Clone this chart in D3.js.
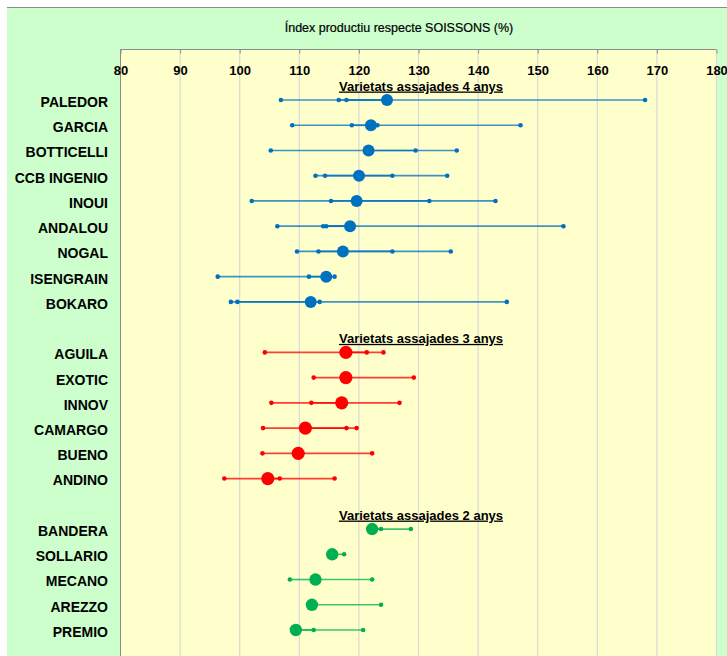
<!DOCTYPE html>
<html>
<head>
<meta charset="utf-8">
<script src="https://cdn.jsdelivr.net/npm/d3@7"></script>
<style>
  body { margin: 0; background: #fff; }
  text { font-family: "Liberation Sans", Arial, sans-serif; }
</style>
</head>
<body>
<div id="container"></div>
<script>
var svgWidth = 727;
var svgHeight = 656;

// varietats assajades 4 anys
var names4 = ["PALEDOR", "GARCIA", "BOTTICELLI", "CCB INGENIO", "INOUI", "ANDALOU", "NOGAL", "ISENGRAIN", "BOKARO"];
var means4 = [124.8, 122.1, 121.7, 120.1, 119.7, 118.6, 117.4, 114.6, 112.0];
var years4 = [
    [107.0, 116.7, 118.0, 168.1],
    [108.9, 118.9, 123.2, 147.2],
    [129.6, 105.3, 136.5],
    [112.8, 114.4, 125.7, 134.9],
    [102.1, 115.4, 131.9, 143.0],
    [106.4, 114.1, 114.6, 154.4],
    [109.7, 113.3, 125.7, 135.5],
    [96.4, 111.7, 116.0],
    [98.6, 99.7, 113.5, 144.9]
];

// varietats assajades 3 anys
var names3 = ["AGUILA", "EXOTIC", "INNOV", "CAMARGO", "BUENO", "ANDINO"];
var means3 = [117.9, 117.9, 117.2, 111.1, 109.9, 104.8];
var years3 = [
    [104.3, 121.4, 124.2],
    [112.5, 129.3],
    [105.4, 112.1, 126.9],
    [104.0, 118.0, 119.7],
    [103.9, 122.3],
    [97.5, 106.8, 116.0]
];

// varietats assajades 2 anys
var names2 = ["BANDERA", "SOLLARIO", "MECANO", "AREZZO", "PREMIO"];
var means2 = [122.3, 115.6, 112.8, 112.2, 109.5];
var years2 = [
    [123.8, 128.8],
    [117.6],
    [108.5, 122.3],
    [123.8],
    [112.5, 120.8]
];

var xTicks = [80, 90, 100, 110, 120, 130, 140, 150, 160, 170, 180];

var groups = [
    {title: "Varietats assajades 4 anys", names: names4, means: means4, years: years4, color: "#0070C0", r: 6},
    {title: "Varietats assajades 3 anys", names: names3, means: means3, years: years3, color: "#FF0000", r: 6.6},
    {title: "Varietats assajades 2 anys", names: names2, means: means2, years: years2, color: "#00B050", r: 6.2}
];

var plotLeft = 120, plotRight = 716, plotTop = 49, plotBottom = 656;

var svg = d3.select('#container').append('svg')
    .attr("width", svgWidth)
    .attr("height", svgHeight);

// outer chart area
svg.append('rect')
    .attr('x', 7).attr('y', 7)
    .attr('width', svgWidth - 7).attr('height', svgHeight - 7)
    .style('fill', '#CCFFCC');
svg.append('line')
    .attr('x1', 7).attr('x2', svgWidth)
    .attr('y1', 7.5).attr('y2', 7.5)
    .style('stroke', '#8c8c8c').style('stroke-width', 1);

svg.append('rect')
    .attr('x', plotLeft).attr('y', plotTop)
    .attr('width', plotRight - plotLeft).attr('height', plotBottom - plotTop)
    .style('fill', '#FFFFCC');

var x = d3.scaleLinear().domain([80, 180]).range([plotLeft, plotRight]);

// row slots, with one empty slot between groups
var slots = [];
groups.forEach(function (g, gi) {
    if (gi > 0) slots.push("gap" + gi);
    g.names.forEach(function (n) { slots.push(n); });
});
var y = d3.scalePoint().domain(slots).range([100, 630]);

// gridlines
svg.append('g')
    .selectAll('line')
    .data(xTicks)
    .enter().append('line')
    .attr('x1', function (d) { return x(d) + 0.5; })
    .attr('x2', function (d) { return x(d) + 0.5; })
    .attr('y1', plotTop)
    .attr('y2', plotBottom)
    .style('stroke', '#D9D9D9')
    .style('stroke-width', 1.2);

// plot border (left and top)
svg.append('path')
    .attr('d', 'M' + (plotLeft + 0.5) + ',' + plotBottom + 'V' + (plotTop + 0.5) + 'H' + plotRight)
    .style('fill', 'none')
    .style('stroke', '#8c8c8c')
    .style('stroke-width', 1);

var axis = svg.append('g')
    .attr('transform', 'translate(0.5,' + (plotTop + 0.5) + ')')
    .call(d3.axisBottom(x).tickValues(xTicks).tickSize(4).tickPadding(12).tickFormat(d3.format('d')));
axis.select('.domain').remove();
axis.selectAll('line').style('stroke', '#8c8c8c');
axis.selectAll('text')
    .style('font-size', '13px')
    .style('font-weight', 'bold')
    .style('fill', '#000');

svg.append('text')
    .attr('x', 399)
    .attr('y', 32)
    .attr('text-anchor', 'middle')
    .style('font-size', '12.5px')
    .style('fill', '#000')
    .style('stroke', '#000')
    .style('stroke-width', 0.2)
    .text('Índex productiu respecte SOISSONS (%)');

groups.forEach(function (g) {
    var firstY = y(g.names[0]);

    svg.append('text')
        .attr('x', 421)
        .attr('y', firstY - 9.5)
        .attr('text-anchor', 'middle')
        .style('font-size', '13px')
        .style('font-weight', 'bold')
        .style('text-decoration', 'underline')
        .style('fill', '#000')
        .text(g.title);

    var rows = svg.append('g').selectAll('g')
        .data(g.names.map(function (n, i) {
            return {name: n, mean: g.means[i], years: g.years[i]};
        }))
        .enter().append('g')
        .attr('transform', function (d) { return 'translate(0,' + y(d.name) + ')'; });

    rows.append('text')
        .attr('x', 108)
        .attr('y', 2)
        .attr('dy', '0.35em')
        .attr('text-anchor', 'end')
        .style('font-size', '14px')
        .style('font-weight', 'bold')
        .style('fill', '#000')
        .text(function (d) { return d.name; });

    // spokes from the mean to every year
    rows.selectAll('line')
        .data(function (d) { return d.years.map(function (v) { return {mean: d.mean, v: v}; }); })
        .enter().append('line')
        .attr('x1', function (d) { return x(d.mean); })
        .attr('x2', function (d) { return x(d.v); })
        .attr('y1', 0).attr('y2', 0)
        .style('stroke', g.color)
        .style('stroke-width', 1.7)
        .style('opacity', 0.75);

    rows.selectAll('circle.year')
        .data(function (d) { return d.years; })
        .enter().append('circle')
        .attr('class', 'year')
        .attr('cx', function (d) { return x(d); })
        .attr('cy', 0)
        .attr('r', 2.3)
        .style('fill', g.color);

    rows.append('circle')
        .attr('class', 'mean')
        .attr('cx', function (d) { return x(d.mean); })
        .attr('cy', 0)
        .attr('r', g.r)
        .style('fill', g.color);
});
</script>
</body>
</html>
